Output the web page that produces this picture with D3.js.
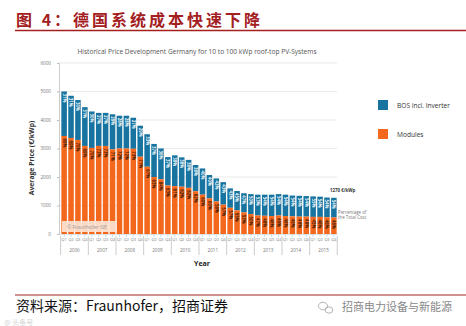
<!DOCTYPE html>
<html><head><meta charset="utf-8">
<script src="https://cdn.jsdelivr.net/npm/d3@7"></script>
<style>body{margin:0;background:#fff}svg{display:block}</style>
</head><body>
<svg id="c" width="466" height="326"></svg>
<script>
const years = ["2006","2007","2008","2009","2010","2011","2012","2013","2014","2015"];
const quarters = ["Q1","Q2","Q3","Q4"];
const totals = [5000,4850,4700,4450, 4300,4250,4250,4200, 4150,4150,4080,3800, 3500,3160,3000,2700,
  2760,2690,2600,2420, 2300,2070,1950,1820, 1600,1510,1430,1400, 1380,1380,1380,1400,
  1380,1350,1340,1330, 1320,1310,1280,1270];
const modules = [3440,3370,3300,3090, 3020,3090,3090,2970, 3000,3000,2990,2710, 2360,2000,1920,1700,
  1680,1660,1620,1500, 1380,1250,1140,1030, 920,830,760,700, 650,640,630,650,
  630,620,610,610, 600,600,590,580];
const yTicks = [0,1000,2000,3000,4000,5000,6000];
const seriesNames = ["BOS incl. Inverter","Modules"];
const colors = ["#17739f","#f4681d"];

const svg = d3.select("#c");
const red = "#a3201f";

// header
svg.append("text").attr("x",16).attr("y",26).attr("fill",red)
  .attr("font-family","'Noto Sans CJK SC'").attr("font-weight","bold").attr("font-size",16)
  .attr("letter-spacing",3).text("图 4：德国系统成本快速下降");
svg.append("line").attr("x1",15).attr("x2",466).attr("y1",30.5).attr("y2",30.5).attr("stroke",red).attr("stroke-width",1.4);

// footer
svg.append("line").attr("x1",15).attr("x2",466).attr("y1",295).attr("y2",295).attr("stroke",red).attr("stroke-width",1.2);
svg.append("text").attr("x",16).attr("y",311).attr("fill","#111")
  .attr("font-family","'Noto Sans CJK SC'").attr("font-size",14).text("资料来源：Fraunhofer，招商证券");
svg.append("text").attr("x",342).attr("y",311).attr("fill","#888")
  .attr("font-family","'Noto Sans CJK SC'").attr("font-size",11).text("招商电力设备与新能源");
const wx = svg.append("g").attr("fill","none").attr("stroke","#aaa").attr("stroke-width",0.9);
wx.append("ellipse").attr("cx",323).attr("cy",306).attr("rx",4.5).attr("ry",3.8);
wx.append("ellipse").attr("cx",329).attr("cy",310).attr("rx",3.8).attr("ry",3.2);
svg.append("text").attr("x",4).attr("y",325).attr("fill","#d4d4d4")
  .attr("font-family","'Noto Sans CJK SC'").attr("font-size",7).text("@ 头条号");

// chart
const x = d3.scaleBand().domain(d3.range(totals.length)).range([61,337]).paddingInner(0.2).paddingOuter(0.05);
const y = d3.scaleLinear().domain([0,6000]).range([234,63]);

svg.append("text").attr("x",197).attr("y",54).attr("text-anchor","middle").attr("fill","#555")
  .attr("font-family","'Open Sans'").attr("font-size",6.6)
  .text("Historical Price Development Germany for 10 to 100 kWp roof-top PV-Systems");

// grid
svg.append("g").selectAll("line").data(yTicks.slice(1)).join("line")
  .attr("x1",59).attr("x2",337).attr("y1",d=>y(d)).attr("y2",d=>y(d))
  .attr("stroke","#e3e3e3").attr("stroke-width",0.8);

const yAxis = svg.append("g").attr("transform","translate(59,0)")
  .call(d3.axisLeft(y).tickValues(yTicks).tickSize(2).tickFormat(d3.format("d")));
yAxis.select(".domain").attr("stroke","#ccc");
yAxis.selectAll(".tick line").attr("stroke","#bbb");
yAxis.selectAll("text").attr("font-size",4.6).attr("fill","#777").attr("font-family","'Open Sans'").attr("dx",-3);

svg.append("text").attr("transform","translate(34,158) rotate(-90)").attr("text-anchor","middle")
  .attr("font-family","'Open Sans'").attr("font-weight","bold").attr("font-size",6.8).attr("fill","#333")
  .text("Average Price (€/kWp)");

// bars
const g = svg.append("g");
totals.forEach((t,i)=>{
  const m = modules[i], b = t - m;
  g.append("rect").attr("x",x(i)).attr("width",x.bandwidth()).attr("y",y(t)).attr("height",y(m)-y(t)).attr("fill",colors[0]);
  g.append("rect").attr("x",x(i)).attr("width",x.bandwidth()).attr("y",y(m)).attr("height",y(0)-y(m)).attr("fill",colors[1]);
  const pm = Math.round(m/t*100), pb = 100-pm;
  const cx = x(i)+x.bandwidth()/2;
  g.append("text").attr("transform",`translate(${cx-1.6},${y(t)+2}) rotate(90)`)
    .attr("font-family","'Open Sans'").attr("font-size",4.4).attr("font-weight","bold").attr("fill","#e8f2f8").text(pb+"%");
  g.append("text").attr("transform",`translate(${cx-1.6},${y(m)+2.5}) rotate(90)`)
    .attr("font-family","'Open Sans'").attr("font-size",4.4).attr("font-weight","bold").attr("fill","#4a1e08").text(pm+"%");
});

// copyright box
svg.append("rect").attr("x",62).attr("y",221).attr("width",55).attr("height",11).attr("fill","#fbe4d4").attr("opacity",0.92);
svg.append("text").attr("x",67).attr("y",228.5).attr("font-family","'Open Sans'").attr("font-size",5).attr("fill","#999").text("© Fraunhofer ISE");

// x axis
svg.append("line").attr("x1",59).attr("x2",338).attr("y1",234.5).attr("y2",234.5).attr("stroke","#ccc").attr("stroke-width",0.6);
svg.append("g").selectAll("line").data(d3.range(totals.length)).join("line")
  .attr("x1",i=>x(i)+x.bandwidth()/2).attr("x2",i=>x(i)+x.bandwidth()/2).attr("y1",234.5).attr("y2",237)
  .attr("stroke","#9cc8e0").attr("stroke-width",0.6);
svg.append("g").selectAll("text").data(d3.range(totals.length)).join("text")
  .attr("x",i=>x(i)+x.bandwidth()/2).attr("y",241).attr("text-anchor","middle")
  .attr("font-family","'Open Sans'").attr("font-size",3.8).attr("fill","#777")
  .text(i=>quarters[i%4]);
const yearX = (k)=> x(k*4) - x.step()*x.paddingInner()/2;
svg.append("g").selectAll("line").data(d3.range(years.length+1)).join("line")
  .attr("x1",k=>k<years.length?yearX(k):x(totals.length-1)+x.bandwidth()+0.6)
  .attr("x2",k=>k<years.length?yearX(k):x(totals.length-1)+x.bandwidth()+0.6)
  .attr("y1",236).attr("y2",255).attr("stroke","#aaa").attr("stroke-width",0.6);
svg.append("g").selectAll("text").data(years).join("text")
  .attr("x",(d,k)=>(x(k*4)+x(k*4+3)+x.bandwidth())/2).attr("y",251.5).attr("text-anchor","middle")
  .attr("font-family","'Open Sans'").attr("font-size",4.6).attr("fill","#777").text(d=>d);
svg.append("text").attr("x",202).attr("y",266).attr("text-anchor","middle")
  .attr("font-family","'Open Sans'").attr("font-weight","bold").attr("font-size",7).attr("fill","#222").text("Year");

// annotations
svg.append("text").attr("x",330).attr("y",192).attr("font-family","'Open Sans'").attr("font-weight","bold")
  .attr("font-size",4.4).attr("fill","#333").text(totals[totals.length-1]+" €/kWp");
svg.append("text").attr("x",338).attr("y",214).attr("font-family","'Open Sans'").attr("font-size",4.4).attr("fill","#777").text("Percentage of");
svg.append("text").attr("x",338).attr("y",219).attr("font-family","'Open Sans'").attr("font-size",4.4).attr("fill","#777").text("the Total Cost");

// legend
const leg = svg.append("g");
seriesNames.forEach((n,k)=>{
  leg.append("rect").attr("x",378).attr("y",100+k*29).attr("width",10).attr("height",10).attr("fill",colors[k]);
  leg.append("text").attr("x",397).attr("y",107.5+k*29).attr("font-family","'Open Sans'").attr("font-size",6.6).attr("fill","#333").text(n);
});
</script>
</body></html>
